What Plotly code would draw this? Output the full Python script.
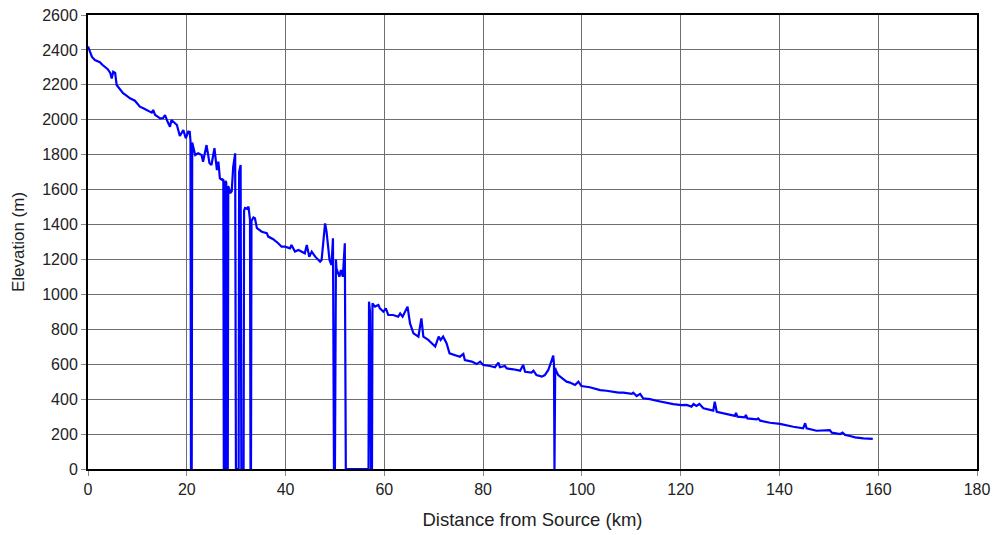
import plotly.graph_objects as go

distance_km = [
    0.0, 0.4, 0.8, 1.4, 1.9, 2.4, 2.9, 3.4, 4.0, 4.5, 4.8, 5.1, 5.5, 5.8, 6.4, 7.1, 7.8, 8.5, 9.5, 10.0,
    10.5, 11.2, 11.9, 12.5, 12.9, 13.2, 13.6, 14.1, 14.6, 15.2, 15.6, 16.1, 16.6, 16.9, 17.4, 18.0, 18.6, 19.3, 19.8, 20.3,
    20.6, 20.75, 20.85, 21.0, 21.1, 21.7, 22.3, 23.0, 23.3, 24.0, 24.6, 25.0, 25.6, 26.1, 26.4, 26.7, 27.2, 27.4, 27.5, 27.7,
    27.8, 28.0, 28.1, 28.3, 28.4, 28.8, 29.1, 29.4, 29.8, 29.95, 30.5, 30.6, 30.9, 31.05, 31.5, 31.6, 31.8, 32.2, 32.5, 32.8,
    32.9, 33.0, 33.1, 33.5, 33.8, 34.2, 35.2, 36.2, 36.5, 37.5, 38.5, 39.2, 39.9, 40.9, 41.2, 41.9, 42.6, 43.3, 43.9, 44.3,
    44.8, 45.3, 46.0, 47.0, 47.3, 48.0, 48.3, 48.9, 49.3, 49.6, 49.8, 50.0, 50.2, 50.3, 50.9, 51.2, 51.6, 52.0, 52.2, 56.8,
    56.9, 57.1, 57.3, 57.5, 57.6, 58.1, 58.8, 59.1, 59.8, 60.3, 60.8, 61.8, 62.8, 63.2, 63.7, 64.4, 64.7, 65.2, 65.9, 66.9,
    67.3, 67.5, 67.9, 68.9, 69.6, 70.3, 71.0, 71.4, 71.9, 72.6, 73.2, 74.3, 75.3, 76.0, 76.3, 77.7, 78.7, 79.4, 80.0, 81.4,
    82.4, 83.1, 83.4, 84.4, 84.8, 86.1, 87.5, 88.1, 88.5, 89.8, 90.2, 90.8, 91.9, 92.5, 93.2, 93.9, 94.2, 94.35, 94.45, 94.6,
    94.7, 95.2, 95.6, 96.2, 96.9, 97.6, 98.6, 99.3, 99.9, 101.6, 102.3, 103.7, 105.0, 107.4, 108.4, 110.1, 110.4, 111.1, 111.8, 112.4,
    113.8, 115.1, 118.5, 120.2, 121.2, 122.2, 122.6, 123.2, 123.8, 124.6, 126.6, 126.9, 127.3, 129.3, 131.0, 131.2, 131.5, 133.0, 133.2, 133.5,
    135.4, 135.7, 136.1, 138.1, 140.1, 142.8, 144.8, 145.2, 145.5, 147.5, 148.9, 150.2, 150.6, 152.3, 152.8, 153.3, 154.3, 155.3, 157.0, 158.7,
    158.9,
]

elevation_m = [
    2420, 2390, 2360, 2342, 2335, 2330, 2315, 2304, 2290, 2268, 2237, 2275, 2268, 2199, 2175, 2152, 2138, 2123, 2109, 2090,
    2075, 2066, 2056, 2048, 2041, 2056, 2027, 2018, 2008, 2010, 2027, 1990, 1960, 1999, 1985, 1970, 1907, 1941, 1894, 1932,
    1930, 1880, 0, 0, 1870, 1798, 1808, 1798, 1760, 1855, 1751, 1741, 1837, 1712, 1760, 1665, 1655, 1660, 0, 0,
    1650, 1640, 0, 0, 1620, 1580, 1590, 1730, 1808, 0, 0, 1700, 1741, 0, 0, 1480, 1495, 1490, 1502, 1426,
    0, 0, 1420, 1440, 1436, 1379, 1359, 1350, 1331, 1316, 1293, 1273, 1273, 1264, 1283, 1245, 1254, 1245, 1235, 1283,
    1216, 1245, 1216, 1187, 1197, 1407, 1359, 1197, 1168, 1321, 0, 0, 1200, 1149, 1101, 1140, 1101, 1293, 0, 0,
    958, 900, 0, 0, 949, 930, 939, 920, 901, 920, 882, 882, 872, 891, 872, 920, 930, 834, 777, 758,
    815, 863, 758, 739, 720, 701, 758, 739, 758, 720, 662, 653, 643, 659, 624, 615, 601, 615, 596, 590,
    583, 609, 583, 590, 576, 571, 563, 596, 557, 552, 563, 538, 529, 538, 567, 624, 650, 600, 0, 580,
    567, 538, 529, 519, 500, 495, 481, 500, 475, 468, 462, 452, 448, 437, 437, 430, 437, 418, 430, 405,
    400, 391, 372, 366, 367, 357, 372, 361, 372, 348, 334, 385, 328, 313, 304, 322, 300, 296, 309, 290,
    284, 290, 277, 265, 258, 242, 233, 262, 233, 219, 219, 223, 208, 200, 208, 195, 189, 181, 175, 170,
    172,
]

x_ticks = [0, 20, 40, 60, 80, 100, 120, 140, 160, 180]
y_ticks = [0, 200, 400, 600, 800, 1000, 1200, 1400, 1600, 1800, 2000, 2200, 2400, 2600]

fig = go.Figure()
fig.add_trace(go.Scatter(
    x=distance_km, y=elevation_m, mode="lines",
    line=dict(color="#0000FF", width=2.2),
    hoverinfo="x+y", showlegend=False,
))

font_family = "Liberation Sans, Arial, sans-serif"
grid_color = "#6e6e6e"

fig.update_layout(
    width=1000, height=535,
    margin=dict(l=80, r=31, t=7, b=74),
    paper_bgcolor="white", plot_bgcolor="white",
    font=dict(family=font_family, color="#222222", size=16),
    xaxis=dict(
        range=[0, 180], tickvals=x_ticks, ticks="outside", ticklen=5, tickcolor="#888888",
        showgrid=True, gridcolor=grid_color, gridwidth=1,
        showline=True, linecolor="#000000", linewidth=2, mirror=True,
        zeroline=False, tickfont=dict(size=16), automargin=False, ticklabeloverflow="allow",
        title=dict(text="Distance from Source (km)", font=dict(size=18.5), standoff=16),
    ),
    yaxis=dict(
        range=[0, 2600], tickvals=y_ticks, ticks="outside", ticklen=5, tickcolor="#888888",
        showgrid=True, gridcolor=grid_color, gridwidth=1,
        showline=True, linecolor="#000000", linewidth=2, mirror=True,
        zeroline=False, tickfont=dict(size=16), automargin=False, ticklabeloverflow="allow",
        title=dict(text="Elevation (m)", font=dict(size=17), standoff=13),
    ),
)

fig.write_html("out.html")
